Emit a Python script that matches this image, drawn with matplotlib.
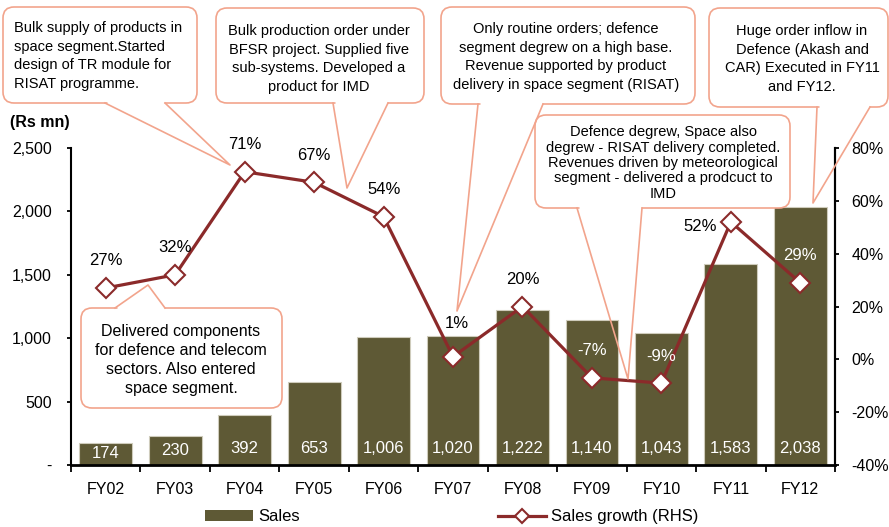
import numpy as np
import matplotlib.pyplot as plt
from matplotlib.patches import FancyBboxPatch, Patch
from matplotlib.lines import Line2D
from matplotlib.ticker import FuncFormatter

plt.rcParams['font.family'] = ['Liberation Sans', 'DejaVu Sans']

years = ['FY02', 'FY03', 'FY04', 'FY05', 'FY06', 'FY07', 'FY08', 'FY09', 'FY10', 'FY11', 'FY12']
sales = [174, 230, 392, 653, 1006, 1020, 1222, 1140, 1043, 1583, 2038]
growth = [27, 32, 71, 67, 54, 1, 20, -7, -9, 52, 29]

BAR = '#5E5935'
LINE = '#8B2A2A'
CALL = '#F2A48C'

fig = plt.figure(figsize=(8.89, 5.27), dpi=100)
ax = fig.add_axes([0.0799, 0.1176, 0.8594, 0.6016])

x = np.arange(len(years))
ax.bar(x, sales, width=0.76, color=BAR, edgecolor='#CFCCBC', linewidth=0.8)
ax.set_xlim(-0.5, len(years) - 0.5)
ax.set_ylim(0, 2500)
ax.set_yticks(np.arange(0, 2501, 500))
ax.yaxis.set_major_formatter(FuncFormatter(lambda v, p: '-' if v == 0 else f'{v:,.0f}'))
ax.set_xticks(x)
ax.set_xticklabels(years)
ax.set_xticks(np.arange(-0.5, len(years)), minor=True)
ax.tick_params(axis='x', which='major', length=0, pad=12, labelsize=11.5)
ax.tick_params(axis='x', which='minor', length=5, width=1.3, direction='out')
ax.tick_params(axis='y', length=3, width=1.3, pad=11, labelsize=11.5)
ax.spines['top'].set_visible(False)
ax.spines['bottom'].set_linewidth(2)
ax.spines['left'].set_linewidth(1.5)
ax.spines['right'].set_linewidth(1.5)

# bar values, white inside the base
for xi, v in zip(x, sales):
    ax.text(xi, min(134, v / 2), f'{v:,}', ha='center', va='center',
            color='white', fontsize=12)

ax2 = ax.twinx()
ax2.plot(x, growth, color=LINE, lw=2.3, marker='D', ms=10,
         mfc='white', mec=LINE, mew=1.5, zorder=3)
ax2.set_ylim(-40, 80)
ax2.set_yticks(range(-40, 81, 20))
ax2.yaxis.set_major_formatter(FuncFormatter(lambda v, p: f'{v:.0f}%'))
ax2.tick_params(axis='y', length=3, width=1.3, pad=9, labelsize=11.5)
for s in ['top', 'left', 'bottom']:
    ax2.spines[s].set_visible(False)
ax2.spines['right'].set_linewidth(1.5)

white_lbl = {7, 8, 10}
for i, g in enumerate(growth):
    off = (0, 19.5)
    if i == 5:
        off = (3, 24)
    elif i == 9:
        off = (-22, -3.5)
    ax2.annotate(f'{g}%', (x[i], g), xytext=off, textcoords='offset points',
                 ha='center', va='center', fontsize=12,
                 color='white' if i in white_lbl else 'black')

fig.text(10 / 889, 1 - 122 / 527, '(Rs mn)', fontsize=11.5, fontweight='bold',
         ha='left', va='center')

# callouts drawn in pixel space
ov = fig.add_axes([0, 0, 1, 1], zorder=5)
ov.set_xlim(0, 889)
ov.set_ylim(527, 0)
ov.axis('off')

callouts = [
    dict(box=(3, 7, 197, 103), base=(105, 165, 103), tip=(230, 165),
         txt='Bulk supply of products in\nspace segment.Started\ndesign of TR module for\nRISAT programme.',
         pos=(14, 56), ha='left', fs=10.5, ls=1.42),
    dict(box=(216, 8, 424, 103), base=(333, 388, 103), tip=(347, 188),
         txt='Bulk production order under\nBFSR project. Supplied five\nsub-systems. Developed a\nproduct for IMD',
         pos=(319, 59), ha='center', fs=10.5, ls=1.42),
    dict(box=(441, 7, 695, 104), base=(478, 543, 104), tip=(457, 311),
         txt='Only routine orders; defence\nsegment degrew on a high base.\nRevenue supported by product\ndelivery in space segment (RISAT)',
         pos=(566, 57), ha='center', fs=10.5, ls=1.42),
    dict(box=(709, 8, 888, 107), base=(817, 870, 107), tip=(813, 203),
         txt='Huge order inflow in\nDefence (Akash and\nCAR) Executed in FY11\nand FY12.',
         pos=(802, 59), ha='center', fs=10.5, ls=1.42),
    dict(box=(535, 115, 790, 208), base=(577, 642, 208), tip=(628, 379),
         txt='Defence degrew, Space also\ndegrew - RISAT delivery completed.\nRevenues driven by meteorological\nsegment - delivered a prodcuct to\nIMD',
         pos=(663, 163), ha='center', fs=10.5, ls=1.12),
    dict(box=(81, 308, 282, 408), base=(115, 165, 308), tip=(148, 285),
         txt='Delivered components\nfor defence and telecom\nsectors. Also entered\nspace segment.',
         pos=(181, 360), ha='center', fs=11.5, ls=1.35),
]

for c in callouts:
    x0, y0, x1, y1 = c['box']
    ov.add_patch(FancyBboxPatch((x0, y0), x1 - x0, y1 - y0,
                                boxstyle='round,pad=0,rounding_size=11',
                                facecolor='white', edgecolor=CALL, lw=1.2))
    bl, br, yb = c['base']
    tx, ty = c['tip']
    ov.plot([bl + 1.5, br - 1.5], [yb, yb], color='white', lw=2.5,
            solid_capstyle='butt')
    ov.plot([bl, tx, br], [yb, ty, yb], color=CALL, lw=1.2)
    ov.text(c['pos'][0], c['pos'][1], c['txt'], ha=c['ha'], va='center',
            multialignment=c['ha'], fontsize=c['fs'], linespacing=c['ls'])

handles = [Patch(facecolor=BAR, edgecolor='none'),
           Line2D([], [], color=LINE, lw=2.3, marker='D', ms=7,
                  mfc='white', mec=LINE, mew=1.5)]
fig.legend(handles, ['Sales', 'Sales growth (RHS)'], loc='center',
           bbox_to_anchor=(0.508, 0.019), ncol=2, frameon=False, fontsize=12,
           handlelength=2.9, handletextpad=0.3, columnspacing=11.9)

fig.savefig('out.png', dpi=100)
